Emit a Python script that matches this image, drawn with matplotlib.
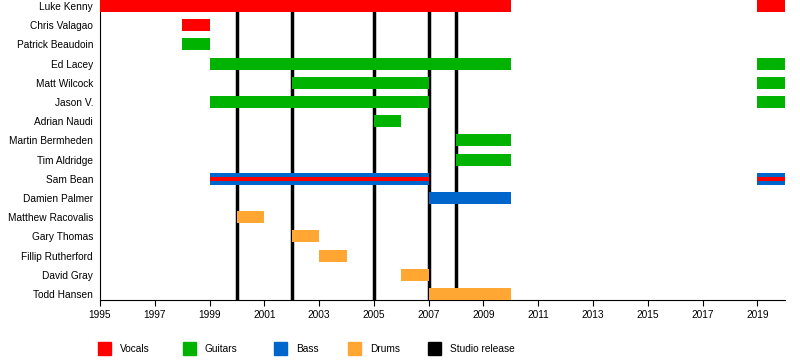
import matplotlib.pyplot as plt
from matplotlib.patches import Rectangle

plt.rcParams['font.family'] = ['Liberation Sans', 'DejaVu Sans']

members = ["Luke Kenny", "Chris Valagao", "Patrick Beaudoin", "Ed Lacey", "Matt Wilcock",
           "Jason V.", "Adrian Naudi", "Martin Bermheden", "Tim Aldridge", "Sam Bean",
           "Damien Palmer", "Matthew Racovalis", "Gary Thomas", "Fillip Rutherford",
           "David Gray", "Todd Hansen"]

# (member, role, start, end)
periods = [
    ("Luke Kenny", "Vocals", 1995, 2010), ("Luke Kenny", "Vocals", 2019, 2020),
    ("Chris Valagao", "Vocals", 1998, 1999),
    ("Patrick Beaudoin", "Guitars", 1998, 1999),
    ("Ed Lacey", "Guitars", 1999, 2010), ("Ed Lacey", "Guitars", 2019, 2020),
    ("Matt Wilcock", "Guitars", 2002, 2007), ("Matt Wilcock", "Guitars", 2019, 2020),
    ("Jason V.", "Guitars", 1999, 2007), ("Jason V.", "Guitars", 2019, 2020),
    ("Adrian Naudi", "Guitars", 2005, 2006),
    ("Martin Bermheden", "Guitars", 2008, 2010),
    ("Tim Aldridge", "Guitars", 2008, 2010),
    ("Sam Bean", "Bass", 1999, 2007), ("Sam Bean", "Bass", 2019, 2020),
    ("Damien Palmer", "Bass", 2007, 2010),
    ("Matthew Racovalis", "Drums", 2000, 2001),
    ("Gary Thomas", "Drums", 2002, 2003),
    ("Fillip Rutherford", "Drums", 2003, 2004),
    ("David Gray", "Drums", 2006, 2007),
    ("Todd Hansen", "Drums", 2007, 2010),
]
# secondary role stripes
stripes = [("Sam Bean", "Vocals", 1999, 2007), ("Sam Bean", "Vocals", 2019, 2020)]

releases = [2000, 2002, 2005, 2007, 2008]

roles = ["Vocals", "Guitars", "Bass", "Drums", "Studio release"]
colors = {"Vocals": "#ff0000", "Guitars": "#00b300", "Bass": "#0066cc",
          "Drums": "#ffa633", "Studio release": "#000000"}

fig = plt.figure(figsize=(8, 3.6), dpi=100)
ax = fig.add_axes([0.125, 1 - 300 / 360, 0.856, 300 / 360])

row = {m: i for i, m in enumerate(members)}
h = 0.62
for m, r, s, e in periods:
    ax.barh(row[m], e - s, left=s, height=h, color=colors[r], zorder=3)
for m, r, s, e in stripes:
    ax.barh(row[m], e - s, left=s, height=h * 0.36, color=colors[r], zorder=4)
for y in releases:
    ax.axvline(y, color="black", lw=2.5, zorder=2)

ax.set_xlim(1995, 2020)
ax.set_ylim(len(members) - 1 + h / 2, -h / 2)
ax.set_yticks(range(len(members)))
ax.set_yticklabels(members, fontsize=7.3)
ax.set_xticks(range(1995, 2020, 2))
ax.tick_params(axis="y", length=0, pad=5)
ax.tick_params(axis="x", length=4, labelsize=7.3, width=0.8)
for s in ["top", "right"]:
    ax.spines[s].set_visible(False)

leg_x = [98, 183, 274, 348, 428]
for r, x in zip(roles, leg_x):
    fig.add_artist(Rectangle((x / 800, 1 - 355 / 360), 13 / 800, 13 / 360,
                             color=colors[r], transform=fig.transFigure))
    fig.text((x + 22) / 800, 1 - 349 / 360, r, fontsize=7.3, va="center")

fig.savefig("out.png", dpi=100)
